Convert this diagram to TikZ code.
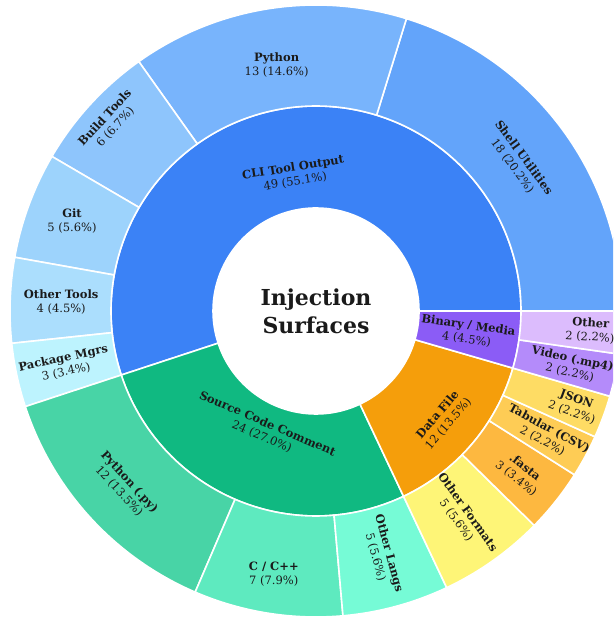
\documentclass[tikz,border=0pt]{standalone}
\usepackage{fontspec}
\setmainfont{DejaVu Serif}
\definecolor{cCLI}{HTML}{3B82F6}
\definecolor{cShell}{HTML}{63A4FA}
\definecolor{cPy}{HTML}{78B4FC}
\definecolor{cBuild}{HTML}{8EC5FC}
\definecolor{cGit}{HTML}{9DD3FC}
\definecolor{cOTools}{HTML}{ABDEFD}
\definecolor{cPkg}{HTML}{BDF3FE}
\definecolor{cSrc}{HTML}{10B981}
\definecolor{cPyPy}{HTML}{48D4A6}
\definecolor{cCpp}{HTML}{5EEABF}
\definecolor{cOLangs}{HTML}{76FBD6}
\definecolor{cData}{HTML}{F59E0B}
\definecolor{cOFmt}{HTML}{FEF577}
\definecolor{cFasta}{HTML}{FDB840}
\definecolor{cTab}{HTML}{FECC55}
\definecolor{cJson}{HTML}{FEDC64}
\definecolor{cBin}{HTML}{8B5CF6}
\definecolor{cVideo}{HTML}{B48BFA}
\definecolor{cOther}{HTML}{DCBCFD}
\definecolor{txt}{HTML}{1A1A1A}
\def\u{4.0449438}
\newcommand\mysector[5]{%
  \fill[#5, draw=white, line width=1.6pt, line join=round]
    ({#1*\u}:#3) arc[start angle={#1*\u}, end angle={#2*\u}, radius=#3]
    -- ({#2*\u}:#4) arc[start angle={#2*\u}, end angle={#1*\u}, radius=#4] -- cycle;}
\newcommand\mylabel[6]{% name, mid count, radius, rotation, title, count
  \node[lab, rotate=#4] (#1) at ({#2*\u}:#3) {\textbf{#5}\\#6};}
\begin{document}
\begin{tikzpicture}[x=1pt,y=1pt,
  lab/.style={align=center, inner sep=0pt, text=txt, font=\fontsize{11.5}{14}\selectfont},
  title/.style={align=center, inner sep=0pt, text=txt, font=\fontsize{22}{28}\selectfont\bfseries}]
\useasboundingbox (0,0) rectangle (613,617);
\clip (0,0) rectangle (613,617);
\begin{scope}[shift={(316,306)}]
% inner ring
\mysector{0}{49}{103pt}{205pt}{cCLI}
\mysector{49}{73}{103pt}{205pt}{cSrc}
\mysector{73}{85}{103pt}{205pt}{cData}
\mysector{85}{89}{103pt}{205pt}{cBin}
% outer ring
\mysector{0}{18}{205pt}{306pt}{cShell}
\mysector{18}{31}{205pt}{306pt}{cPy}
\mysector{31}{37}{205pt}{306pt}{cBuild}
\mysector{37}{42}{205pt}{306pt}{cGit}
\mysector{42}{46}{205pt}{306pt}{cOTools}
\mysector{46}{49}{205pt}{306pt}{cPkg}
\mysector{49}{61}{205pt}{306pt}{cPyPy}
\mysector{61}{68}{205pt}{306pt}{cCpp}
\mysector{68}{73}{205pt}{306pt}{cOLangs}
\mysector{73}{78}{205pt}{306pt}{cOFmt}
\mysector{78}{81}{205pt}{306pt}{cFasta}
\mysector{81}{83}{205pt}{306pt}{cTab}
\mysector{83}{85}{205pt}{306pt}{cJson}
\mysector{85}{87}{205pt}{306pt}{cVideo}
\mysector{87}{89}{205pt}{306pt}{cOther}
% labels inner
\mylabel{cli}{24.5}{138pt}{9.1}{CLI Tool Output}{49 (55.1\%)}
\mylabel{src}{61}{130pt}{-23.3}{Source Code Comment}{24 (27.0\%)}
\mylabel{data}{79}{167pt}{49.5}{Data File}{12 (13.5\%)}
\mylabel{bin}{87}{153pt}{-8.1}{Binary / Media}{4 (4.5\%)}
% labels outer
\mylabel{shell}{9}{251pt}{-53.6}{Shell Utilities}{18 (20.2\%)}
\mylabel{python}{24.5}{249pt}{0}{Python}{13 (14.6\%)}
\mylabel{build}{34}{279pt}{47.5}{Build Tools}{6 (6.7\%)}
\mylabel{git}{39.5}{260pt}{0}{Git}{5 (5.6\%)}
\mylabel{otools}{44}{255pt}{0}{Other Tools}{4 (4.5\%)}
\mylabel{pkg}{47.5}{257pt}{12.1}{Package Mgrs}{3 (3.4\%)}
\mylabel{pypy}{55}{260pt}{-47.5}{Python (.py)}{12 (13.5\%)}
\mylabel{cpp}{64.5}{267pt}{0}{C / C++}{7 (7.9\%)}
\mylabel{olangs}{70.5}{253pt}{-74.8}{Other Langs}{5 (5.6\%)}
\mylabel{ofmt}{75.5}{252pt}{-54.6}{Other Formats}{5 (5.6\%)}
\mylabel{fasta}{79.5}{261pt}{-38.4}{.fasta}{3 (3.4\%)}
\mylabel{tab}{82}{261pt}{-28.3}{Tabular (CSV)}{2 (2.2\%)}
\mylabel{json}{84}{275pt}{-20.2}{JSON}{2 (2.2\%)}
\mylabel{video}{86}{261pt}{-12.1}{Video (.mp4)}{2 (2.2\%)}
\mylabel{other}{88}{275pt}{-4}{Other}{2 (2.2\%)}
% center
\node[title] (center) at (0,0) {Injection\\Surfaces};
\end{scope}
\end{tikzpicture}
\end{document}
